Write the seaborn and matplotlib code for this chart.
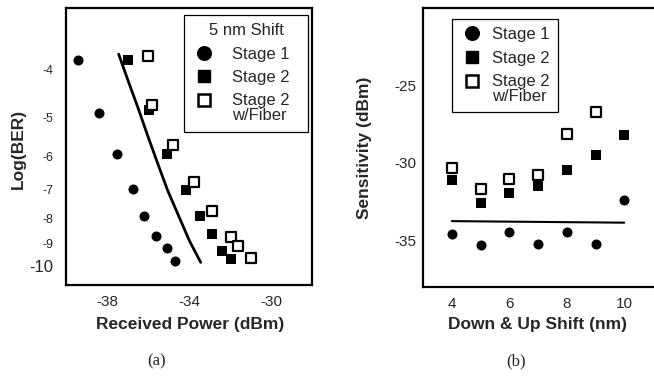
import numpy as np
import pandas as pd
import matplotlib
matplotlib.use("Agg")
import matplotlib.pyplot as plt
from matplotlib.lines import Line2D
from matplotlib.legend_handler import HandlerLine2D
import seaborn as sns

sns.set_style("white")
plt.rcParams["font.family"] = ["Liberation Sans", "DejaVu Sans"]

# ---- (a) BER curves, 5 nm shift ----
stage1_power = [-39.43, -38.41, -37.51, -36.71, -36.20, -35.60, -35.05, -34.67]
stage1_logber = [-3.82, -4.89, -5.93, -6.96, -7.91, -8.66, -9.19, -9.74]
stage2_power = [-36.96, -35.94, -35.05, -34.15, -33.46, -32.89, -32.40, -31.93]
stage2_logber = [-3.82, -4.82, -5.93, -7.00, -7.91, -8.60, -9.30, -9.67]
fiber_power = [-36.01, -35.80, -34.80, -33.74, -32.87, -31.94, -31.63, -30.98]
fiber_logber = [-3.76, -4.71, -5.67, -6.76, -7.71, -8.70, -9.08, -9.59]
ref_power = [-37.43, -36.97, -36.50, -36.02, -35.52, -35.04, -34.50, -33.98, -33.43]
ref_logber = [-3.72, -4.21, -4.76, -5.43, -6.20, -7.02, -7.91, -8.87, -9.81]
ber_ticks = [-4, -5, -6, -7, -8, -9, -10]
power_ticks = [-38, -34, -30]

# ---- (b) sensitivity vs wavelength shift ----
shift_nm = [4, 5, 6, 7, 8, 9, 10]
sens_stage1 = [-34.61, -35.28, -34.46, -35.23, -34.48, -35.23, -32.39]
sens_stage2 = [-31.10, -32.61, -31.92, -31.46, -30.45, -29.48, -28.17]
fiber_shift = [4, 5, 6, 7, 8, 9]
sens_fiber = [-30.35, -31.68, -31.06, -30.77, -28.10, -26.73]
ref_shift = [4, 10]
ref_sens = [-33.75, -33.85]
shift_ticks = [4, 6, 8, 10]
sens_ticks = [-25, -30, -35]

fig = plt.figure(figsize=(6.54, 3.78), dpi=100)
W, H = 654, 378


def px_axes(x0, y0, x1, y1):
    return fig.add_axes([x0 / W, 1 - y1 / H, (x1 - x0) / W, (y1 - y0) / H])


ax1 = px_axes(66, 8, 312, 285)
ax2 = px_axes(423, 8, 656, 287)


def fwd(y):
    return -np.log10(np.clip(-np.asarray(y, dtype=float), 1e-3, None))


def inv(t):
    return -10.0 ** (-np.asarray(t, dtype=float))


ax1.set_yscale("function", functions=(fwd, inv))

circ = dict(marker="o", s=52, color="black", edgecolor="black", linewidth=0)
fill_sq = dict(marker="s", s=44, color="black", edgecolor="black", linewidth=0)
open_sq = dict(marker="s", s=44, facecolor="white", edgecolor="black", linewidth=1.6)

df_a1 = pd.DataFrame({"p": stage1_power, "b": stage1_logber})
df_a2 = pd.DataFrame({"p": stage2_power, "b": stage2_logber})
df_a3 = pd.DataFrame({"p": fiber_power, "b": fiber_logber})
df_aref = pd.DataFrame({"p": ref_power, "b": ref_logber})

sns.lineplot(data=df_aref, x="p", y="b", ax=ax1, color="black", linewidth=2.0,
             sort=False, estimator=None)
sns.scatterplot(data=df_a1, x="p", y="b", ax=ax1, zorder=3, **circ)
sns.scatterplot(data=df_a2, x="p", y="b", ax=ax1, zorder=3, **fill_sq)
sns.scatterplot(data=df_a3, x="p", y="b", ax=ax1, zorder=4, **open_sq)

ax1.set_xlim(-40, -28)
ax1.set_ylim(-10.9, -3.0)
ax1.set_xticks(power_ticks)
ax1.set_xticklabels([str(v) for v in power_ticks])
ax1.set_yticks(ber_ticks)
ax1.set_yticklabels([str(v) for v in ber_ticks])
ax1.yaxis.set_minor_locator(matplotlib.ticker.NullLocator())
for lab, v in zip(ax1.get_yticklabels(), ber_ticks):
    lab.set_fontsize(12 if v == -10 else 9)
ax1.tick_params(axis="y", direction="in", length=7, width=1.4, pad=9)
ax1.tick_params(axis="x", direction="in", length=7, width=1.4, pad=7, labelsize=11)

df_b1 = pd.DataFrame({"s": shift_nm, "v": sens_stage1})
df_b2 = pd.DataFrame({"s": shift_nm, "v": sens_stage2})
df_b3 = pd.DataFrame({"s": fiber_shift, "v": sens_fiber})
df_bref = pd.DataFrame({"s": ref_shift, "v": ref_sens})

sns.lineplot(data=df_bref, x="s", y="v", ax=ax2, color="black", linewidth=1.5,
             estimator=None)
sns.scatterplot(data=df_b1, x="s", y="v", ax=ax2, zorder=3, **circ)
sns.scatterplot(data=df_b2, x="s", y="v", ax=ax2, zorder=3, **fill_sq)
sns.scatterplot(data=df_b3, x="s", y="v", ax=ax2, zorder=4, **open_sq)

ax2.set_xlim(3, 11 + 3 / 29.05)
ax2.set_ylim(-38, -20)
ax2.set_xticks(shift_ticks)
ax2.set_xticklabels([str(v) for v in shift_ticks])
ax2.set_yticks(sens_ticks)
ax2.set_yticklabels([str(v) for v in sens_ticks])
ax2.tick_params(axis="both", direction="in", length=7, width=1.4, labelsize=11)
ax2.tick_params(axis="y", pad=5)
ax2.tick_params(axis="x", pad=7)

for ax in (ax1, ax2):
    for sp in ax.spines.values():
        sp.set_linewidth(1.6)
        sp.set_color("black")

lab_kw = dict(fontsize=12.5, fontweight="bold")
ax1.set_xlabel("Received Power (dBm)", **lab_kw)
ax1.set_ylabel("Log(BER)", **lab_kw)
ax2.set_xlabel("Down & Up Shift (nm)", **lab_kw)
ax2.set_ylabel("Sensitivity (dBm)", **lab_kw)
ax1.xaxis.set_label_coords(0.505, -40 / 277)
ax1.yaxis.set_label_coords(-48 / 246, 0.49)
ax2.xaxis.set_label_coords(115 / 233, -38 / 279)
ax2.yaxis.set_label_coords(-59 / 233, 0.5)
for ax in (ax1, ax2):
    ax.xaxis.label.set_va("center")
    ax.yaxis.label.set_va("center")


class FirstLineHandler(HandlerLine2D):
    """Puts the legend marker beside the first line of a two-line label."""

    def __init__(self, shift=0.5, **kw):
        super().__init__(**kw)
        self.shift = shift

    def create_artists(self, legend, orig_handle, xdescent, ydescent, width,
                       height, fontsize, trans):
        arts = super().create_artists(legend, orig_handle, xdescent, ydescent,
                                      width, height, fontsize, trans)
        for a in arts:
            a.set_ydata(np.asarray(a.get_ydata(), dtype=float)
                        + self.shift * fontsize)
        return arts


handles = [
    Line2D([], [], linestyle="none", marker="o", markersize=9.8, color="black"),
    Line2D([], [], linestyle="none", marker="s", markersize=8.4, color="black"),
    Line2D([], [], linestyle="none", marker="s", markersize=8.6,
           markerfacecolor="white", markeredgecolor="black", markeredgewidth=1.8),
]
names = ["Stage 1", "Stage 2", "Stage 2\nw/Fiber"]
hmap = {handles[2]: FirstLineHandler(shift=0.5)}
leg_kw = dict(fontsize=12, frameon=True, fancybox=False, handlelength=1.4,
              labelspacing=0.5, borderpad=0.5, borderaxespad=0.0,
              edgecolor="black", handler_map=hmap)

# left legend spans a fixed box with its title centred
leg1 = ax1.legend(handles, names, title="5 nm Shift", loc="upper left",
                  bbox_to_anchor=((184 - 66) / 246, 0.0, (308 - 184) / 246,
                                  (285 - 15) / 277),
                  mode="expand", handletextpad=1.0, title_fontsize=12, **leg_kw)
leg2 = ax2.legend(handles, names, loc="upper left",
                  bbox_to_anchor=((452 - 423) / 233, (287 - 19) / 279),
                  handletextpad=0.5, **leg_kw)
for leg in (leg1, leg2):
    fr = leg.get_frame()
    fr.set_linewidth(0.9)
    fr.set_alpha(1)
    for t in leg.get_texts():
        t.set_linespacing(1.0)

fig.text(157 / W, 1 - 361 / H, "(a)", family="Liberation Serif", fontsize=12,
         ha="center", va="center")
fig.text(516 / W, 1 - 361 / H, "(b)", family="Liberation Serif", fontsize=12,
         ha="center", va="center")

fig.savefig("out.png", dpi=100)
